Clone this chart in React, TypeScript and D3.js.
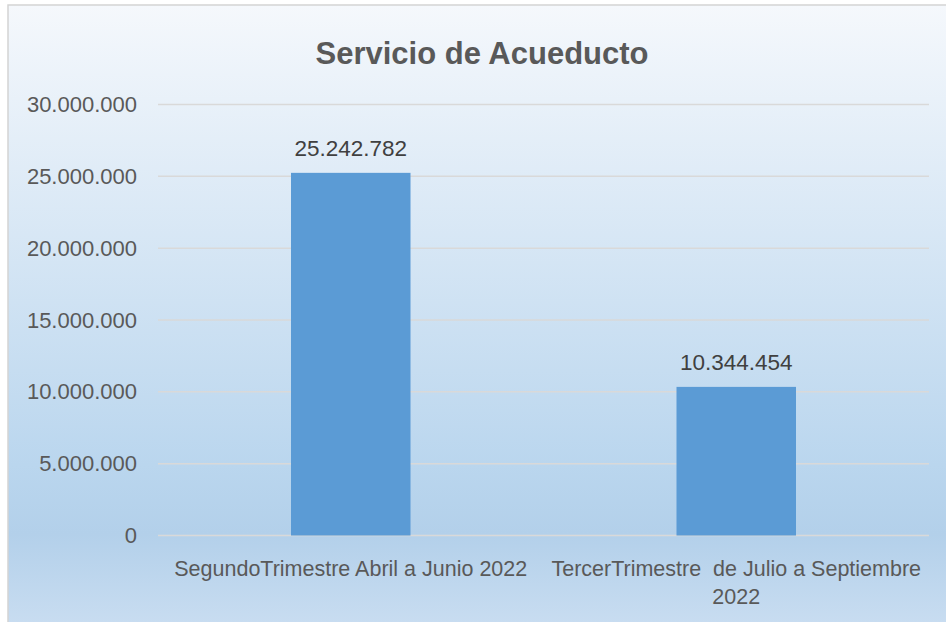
import React, { useEffect, useRef } from 'react';
import * as d3 from 'd3';

const WIDTH = 946;
const HEIGHT = 622;

const categories = [
  'SegundoTrimestre Abril a Junio 2022',
  'TercerTrimestre  de Julio a Septiembre 2022',
];
const values = [25242782, 10344454];
const yTicks = [0, 5000000, 10000000, 15000000, 20000000, 25000000, 30000000];

const FONT = "'Liberation Sans', Arial, sans-serif";
const TEXT = '#595959';

// 25242782 -> 25.242.782
const fmt = (v: number) => d3.format(',')(v).replace(/,/g, '.');

export default function App() {
  const ref = useRef<SVGSVGElement>(null);

  useEffect(() => {
    const svg = d3.select(ref.current);
    svg.selectAll('*').remove();

    const margin = { top: 104.5, right: 17, bottom: 86.5, left: 158 };
    const width = WIDTH - margin.left - margin.right;
    const height = HEIGHT - margin.top - margin.bottom;

    // background gradient
    const defs = svg.append('defs');
    const grad = defs.append('linearGradient')
      .attr('id', 'bg').attr('x1', 0).attr('y1', 0).attr('x2', 0).attr('y2', 1);
    [[0, '#f5f8fc'], [0.74, '#bad6ee'], [0.85, '#b3d0ea'], [1, '#c9ddf1']].forEach(([o, c]) => {
      grad.append('stop').attr('offset', o as number).attr('stop-color', c as string);
    });

    svg.append('rect')
      .attr('x', 8).attr('y', 5).attr('width', WIDTH).attr('height', HEIGHT)
      .attr('fill', 'url(#bg)').attr('stroke', '#d4d4d4').attr('stroke-width', 1.5);

    svg.append('text')
      .attr('x', 482).attr('y', 64)
      .attr('text-anchor', 'middle')
      .attr('font-family', FONT).attr('font-weight', 'bold').attr('font-size', 31)
      .attr('fill', TEXT)
      .text('Servicio de Acueducto');

    const chart = svg.append('g').attr('transform', `translate(${margin.left},${margin.top})`);

    const x = d3.scaleBand<string>().domain(categories).range([0, width]).paddingInner(0.69).paddingOuter(0.345);
    const y = d3.scaleLinear().domain([0, 30000000]).range([height, 0]);

    // gridlines
    chart.append('g')
      .selectAll('line')
      .data(yTicks)
      .enter()
      .append('line')
      .attr('x1', 0).attr('x2', width)
      .attr('y1', (d) => y(d)).attr('y2', (d) => y(d))
      .attr('stroke', '#d9d9d9').attr('stroke-width', 1.5);

    // y axis labels
    const yAxis = chart.append('g')
      .call(d3.axisLeft(y).tickValues(yTicks).tickSize(0).tickPadding(21).tickFormat((d) => fmt(d as number)));
    yAxis.select('.domain').remove();
    yAxis.selectAll('text')
      .attr('font-family', FONT).attr('font-size', 22).attr('fill', TEXT);

    // bars
    chart.selectAll('.bar')
      .data(values)
      .enter()
      .append('rect')
      .attr('class', 'bar')
      .attr('x', (_, i) => x(categories[i])!)
      .attr('width', x.bandwidth())
      .attr('y', (d) => y(d))
      .attr('height', (d) => height - y(d))
      .attr('fill', '#5b9bd5');

    // data labels
    chart.selectAll('.lbl')
      .data(values)
      .enter()
      .append('text')
      .attr('class', 'lbl')
      .attr('x', (_, i) => x(categories[i])! + x.bandwidth() / 2)
      .attr('y', (d) => y(d) - 17)
      .attr('text-anchor', 'middle')
      .attr('font-family', FONT).attr('font-size', 22.5).attr('fill', '#404040')
      .text((d) => fmt(d));

    // category labels, wrapped to the band step
    const step = x.step();
    categories.forEach((cat) => {
      const cx = x(cat)! + x.bandwidth() / 2;
      const t = chart.append('text')
        .attr('x', cx).attr('y', height + 40)
        .attr('text-anchor', 'middle')
        .attr('font-family', FONT).attr('font-size', 21.5).attr('fill', TEXT)
        .style('white-space', 'pre');
      const words = cat.split(' ');
      let line: string[] = [];
      let tspan = t.append('tspan').attr('x', cx).attr('dy', 0);
      words.forEach((w) => {
        line.push(w);
        tspan.text(line.join(' '));
        if ((tspan.node() as SVGTSpanElement).getComputedTextLength() > step && line.length > 1) {
          line.pop();
          tspan.text(line.join(' '));
          line = [w];
          tspan = t.append('tspan').attr('x', cx).attr('dy', 28).text(w);
        }
      });
    });
  }, []);

  return (
    <svg
      ref={ref}
      width={WIDTH}
      height={HEIGHT}
      style={{ position: 'absolute', left: 0, top: 0, background: '#fff' }}
    ></svg>
  );
}
